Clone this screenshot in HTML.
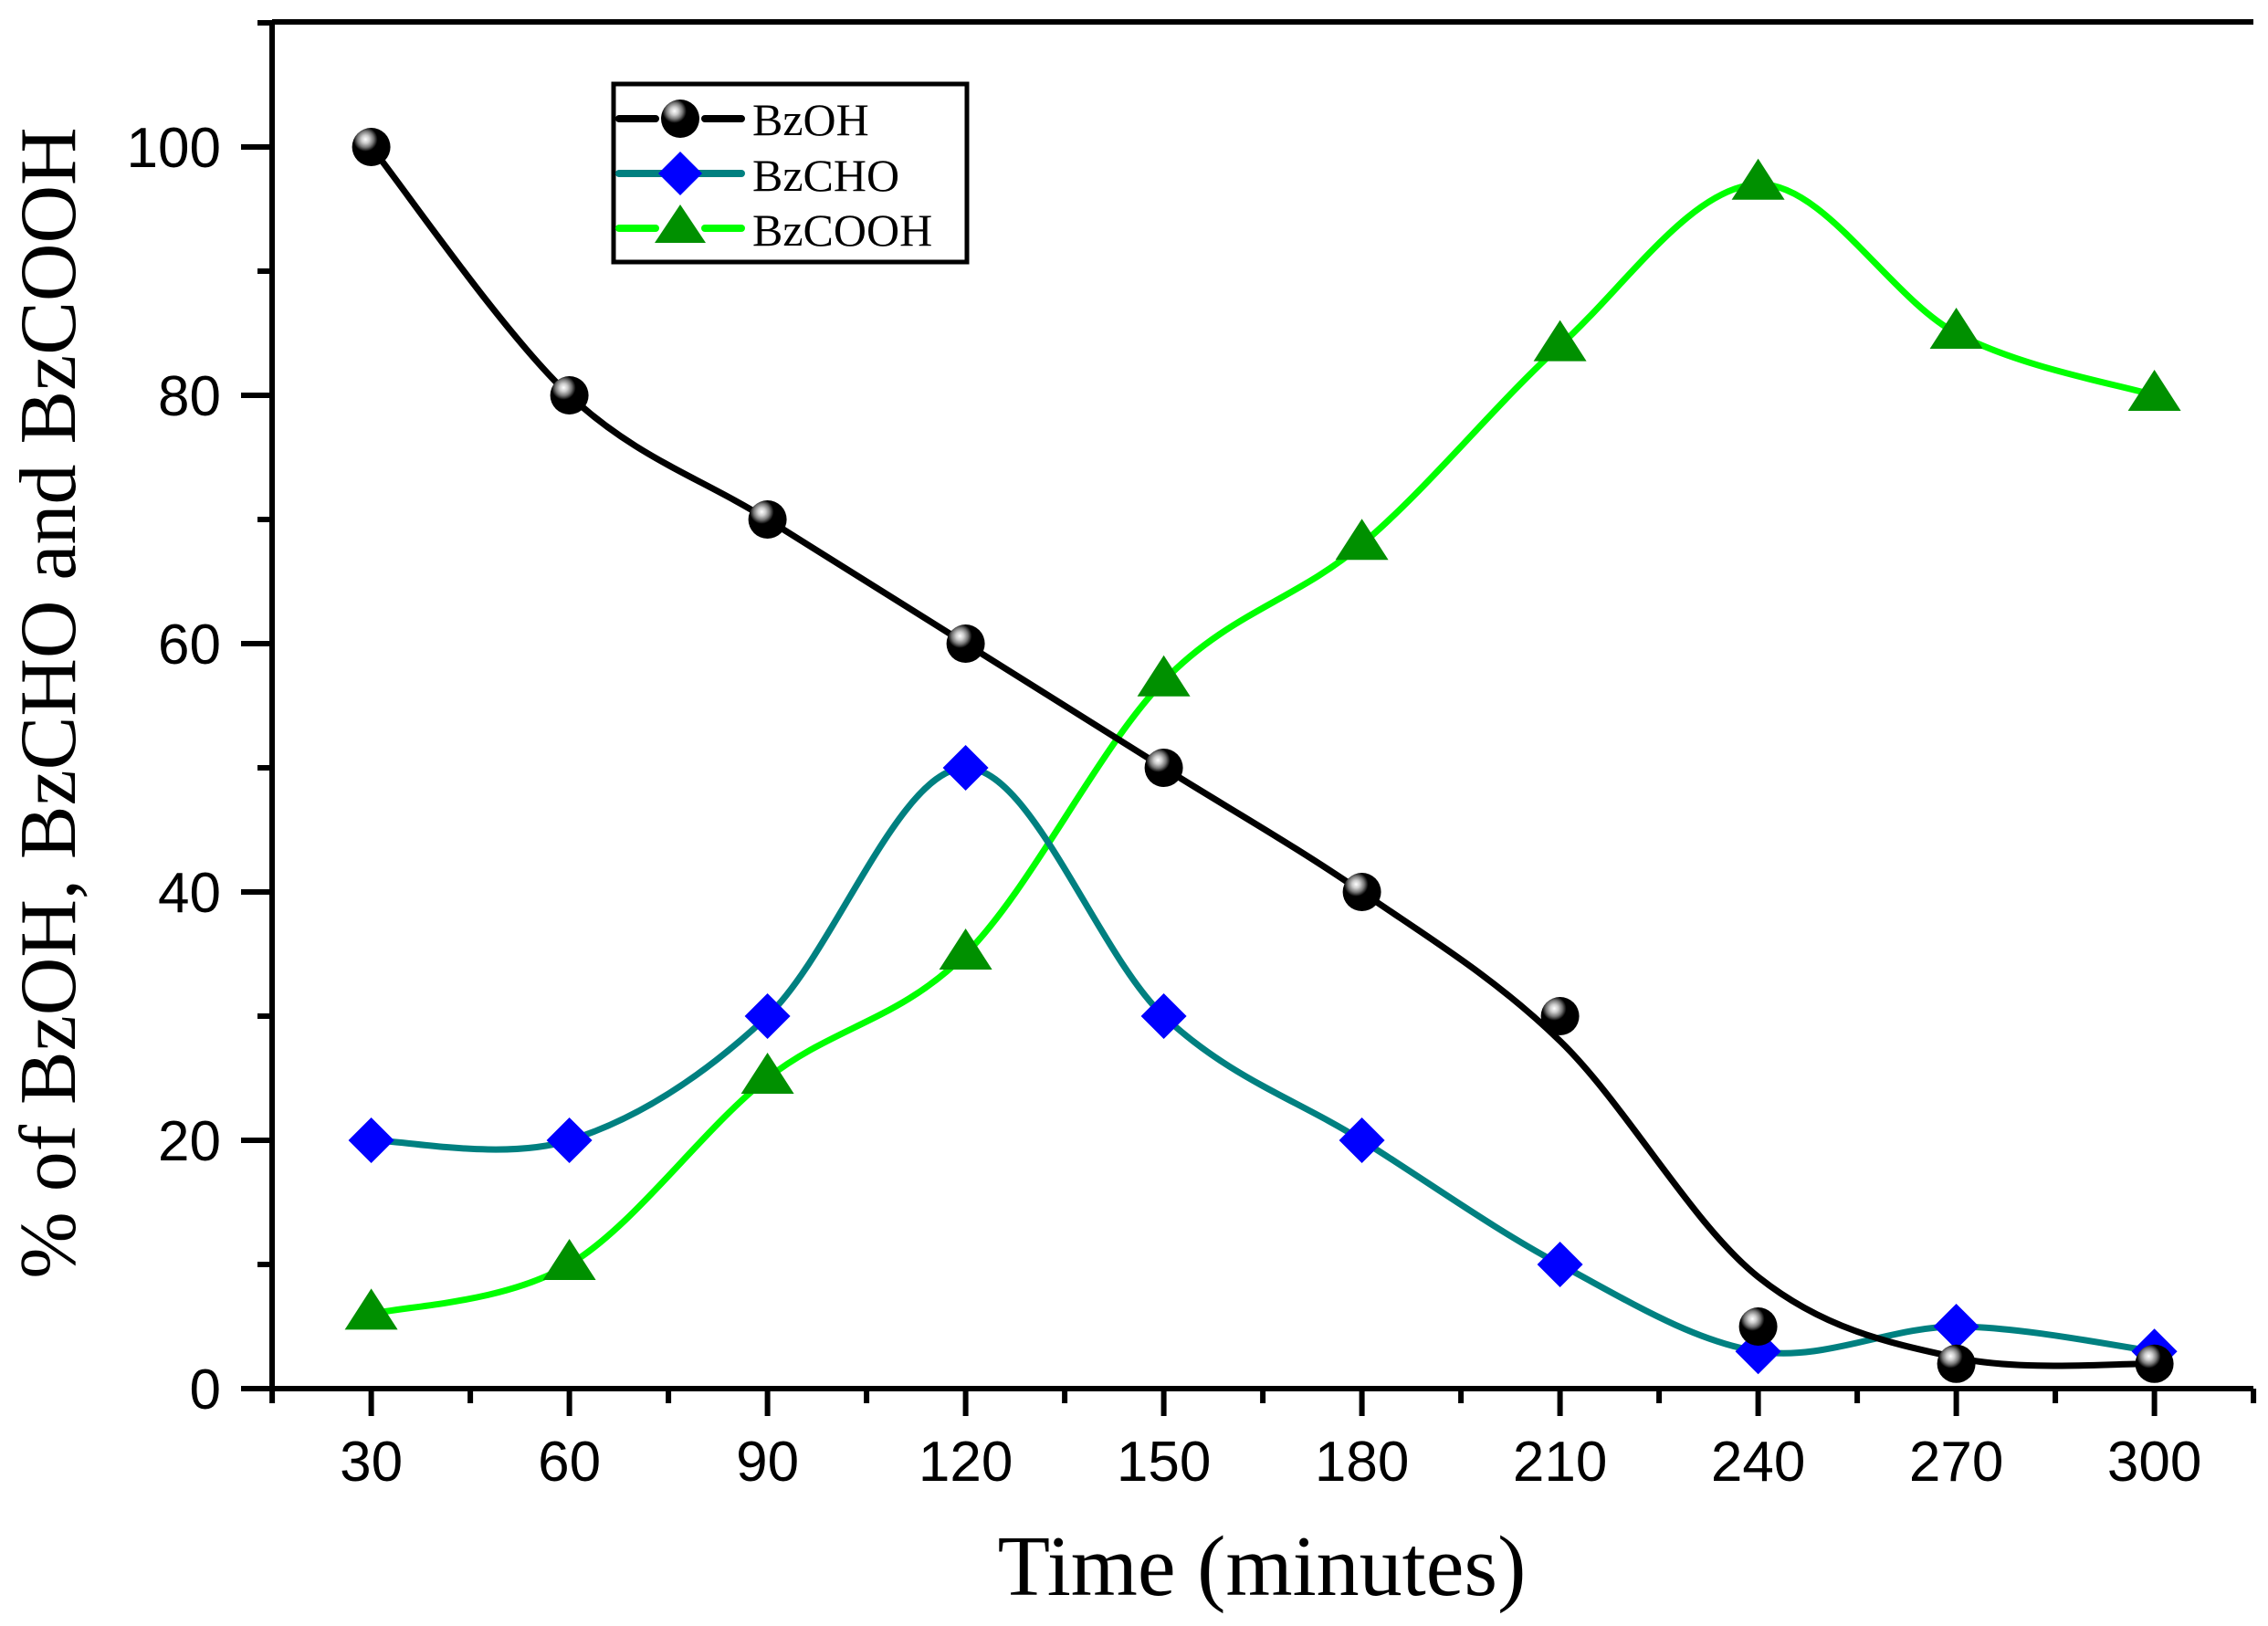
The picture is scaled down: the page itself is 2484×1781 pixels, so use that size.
<!DOCTYPE html>
<html><head><meta charset="utf-8"><style>html,body{margin:0;padding:0;background:#fff}svg{display:block}</style></head>
<body>
<svg id="s" xmlns="http://www.w3.org/2000/svg" width="2484" height="1781" viewBox="0 0 2484 1781">
<defs>
<radialGradient id="g" cx="0.35" cy="0.3" r="0.7">
<stop offset="0" stop-color="#fff"/><stop offset="0.15" stop-color="#ccc"/><stop offset="0.3" stop-color="#777"/><stop offset="0.45" stop-color="#000"/><stop offset="1" stop-color="#000"/>
</radialGradient>
</defs>
<g id="axes" stroke="#000" stroke-width="6" fill="none">
<line x1="298" y1="24" x2="298" y2="1524"/>
<line x1="295" y1="1521" x2="2468" y2="1521"/>
<line x1="298" y1="24" x2="2468" y2="24"/>
</g>
<g id="ticks" stroke="#000" stroke-width="6"></g>
<g id="lines" fill="none" stroke-width="7"></g>
<g id="marks"></g>
<g font-family="Liberation Sans, Arial, sans-serif" font-size="62" fill="#000" id="lbl"></g>
<text x="1382" y="1747" font-family="Liberation Serif, serif" font-size="94" text-anchor="middle">Time (minutes)</text>
<text transform="translate(82,770) rotate(-90)" font-family="Liberation Serif, serif" font-size="88" text-anchor="middle">% of BzOH, BzCHO and BzCOOH</text>
<g id="legend">
<rect x="672" y="92" width="387" height="195" fill="#fff" stroke="#000" stroke-width="5"/>
<line x1="678" y1="130" x2="718" y2="130" stroke="#000" stroke-width="8" stroke-linecap="round"/>
<line x1="772" y1="130" x2="812" y2="130" stroke="#000" stroke-width="8" stroke-linecap="round"/>
<circle cx="745" cy="130" r="21" fill="url(#g)"/>
<line x1="678" y1="190" x2="812" y2="190" stroke="#008080" stroke-width="8" stroke-linecap="round"/>
<polygon points="745,166 769,190 745,214 721,190" fill="#0000ff"/>
<line x1="678" y1="250" x2="718" y2="250" stroke="#00ff00" stroke-width="8" stroke-linecap="round"/>
<line x1="772" y1="250" x2="812" y2="250" stroke="#00ff00" stroke-width="8" stroke-linecap="round"/>
<polygon points="745,224 773,266 717,266" fill="#009000"/>
<g font-family="Liberation Serif, serif" font-size="50">
<text x="824" y="148">BzOH</text><text x="824" y="209">BzCHO</text><text x="824" y="269">BzCOOH</text>
</g>
</g>
</svg>
<script>
var NS="http://www.w3.org/2000/svg";
function X(t){return 406.6+(t-30)*217/30;}
function Y(v){return 1521-v*13.6;}
function el(p,n,a,txt){var e=document.createElementNS(NS,n);for(var k in a)e.setAttribute(k,a[k]);if(txt!==undefined)e.textContent=txt;document.getElementById(p).appendChild(e);return e;}
for(var t=15;t<=315;t+=15){var maj=(t%30==0);el("ticks","line",{x1:X(t),y1:1521,x2:X(t),y2:1521+(maj?30:16)});
 if(maj)el("lbl","text",{x:X(t),y:1622,"text-anchor":"middle"},String(t));}
for(var v=0;v<=110;v+=10){var maj=(v%20==0);el("ticks","line",{x1:298-(maj?34:16),y1:Y(v),x2:298,y2:Y(v)});
 if(maj&&v<=100)el("lbl","text",{x:242,y:Y(v)+22,"text-anchor":"end"},String(v));}
var ts=[30,60,90,120,150,180,210,240,270,300];
var S=[
 {d:[6,10,25,35,57,68,84,97,85,80],c:"#00ff00",m:"tri"},
 {d:[20,20,30,50,30,20,10,3,5,3],c:"#008080",m:"dia"},
 {d:[100,80,70,60,50,40,30,5,2,2],c:"#000",m:"cir",dl:[100,80,70,60,50,40,28,9,2.5,2]}];
function path(p){var s="M"+p[0][0]+","+p[0][1];for(var i=0;i<p.length-1;i++){var p0=p[i-1]||p[i],p1=p[i],p2=p[i+1],p3=p[i+2]||p[i+1];
 s+=" C"+(p1[0]+(p2[0]-p0[0])/6)+","+(p1[1]+(p2[1]-p0[1])/6)+" "+(p2[0]-(p3[0]-p1[0])/6)+","+(p2[1]-(p3[1]-p1[1])/6)+" "+p2[0]+","+p2[1];}return s;}
S.forEach(function(s){var d=s.dl||s.d;var p=ts.map(function(t,i){return [X(t),Y(d[i])];});el("lines","path",{d:path(p),stroke:s.c});});
S.forEach(function(s){ts.forEach(function(t,i){var x=X(t),y=Y(s.d[i]);
 if(s.m=="cir")el("marks","circle",{cx:x,cy:y,r:21,fill:"url(#g)"});
 else if(s.m=="dia")el("marks","polygon",{points:x+","+(y-25)+" "+(x+25)+","+y+" "+x+","+(y+25)+" "+(x-25)+","+y,fill:"#0000ff"});
 else el("marks","polygon",{points:x+","+(y-28)+" "+(x+29)+","+(y+17)+" "+(x-29)+","+(y+17),fill:"#009000"});});});
</script>
</body></html>
